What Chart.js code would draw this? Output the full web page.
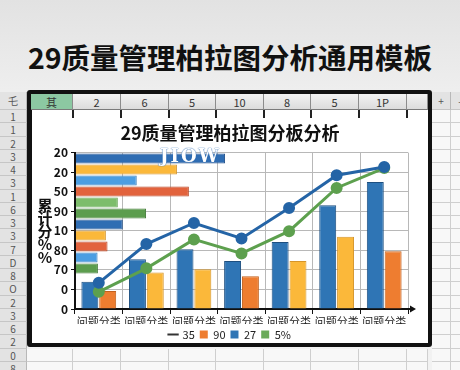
<!DOCTYPE html>
<html>
<head>
<meta charset="utf-8">
<script src="https://cdn.jsdelivr.net/npm/chart.js@4.4.1/dist/chart.umd.min.js"></script>
<style>
  html, body { margin: 0; padding: 0; }
  body {
    width: 460px; height: 370px; overflow: hidden; position: relative;
    background: linear-gradient(#e2e2e2, #eeeeee 90px, #f2f2f2);
    font-family: "Noto Sans CJK SC", "Noto Sans", sans-serif;
  }
  #heading {
    position: absolute; left: 0; top: 37px; width: 460px; margin: 0;
    text-align: center; font-size: 28.5px; line-height: 40px; font-weight: bold; color: #111;
  }
  .cell {
    position: absolute; box-sizing: border-box; text-align: center;
    font-size: 10px; color: #555; overflow: hidden;
  }
  .rowhead { background: #e3e3e3; border-bottom: 1px solid #c6c6c6; border-right: 1px solid #b8b8b8; }
  .sheet { background: #f8f8f8; border-bottom: 1px solid #cfcfcf; border-right: 1px solid #cfcfcf; }
  .colhead {
    background: linear-gradient(#f2f2f2, #dcdcdc); border-right: 1px solid #8c8c8c;
    border-bottom: 1px solid #7a7a7a; font-size: 11px; color: #333; line-height: 15px;
  }
  #frame {
    position: absolute; left: 27px; top: 90px; width: 405px; height: 257px;
    box-sizing: border-box; border: 4px solid #111; border-left-width: 5px;
    border-radius: 3px; background: #fff;
  }
  .stub { position: absolute; width: 2px; height: 8px; top: 110px; background: #222; }
  #ytitle {
    position: absolute; left: 36px; top: 198px; width: 18px; text-align: center;
    font-size: 15px; font-weight: bold; line-height: 13px; color: #111; z-index: 4;
  }
  #mark {
    position: absolute; left: 160px; top: 145px; font-family: "DejaVu Serif", serif;
    font-size: 18px; font-weight: bold; color: #fff; letter-spacing: 2px; z-index: 5;
    text-shadow: 0 0 1px #2f6db3, 0 0 1px #2f6db3;
  }
  #mainChart { position: absolute; left: 32px; top: 118px; z-index: 2; }
  #hbarChart { position: absolute; left: 76px; top: 153px; z-index: 3; }
</style>
</head>
<body>
<h1 id="heading">29质量管理柏拉图分析通用模板</h1>
<div id="sheet"></div>
<div id="frame"></div>
<div id="heads"></div>
<div id="ytitle">累<br>计<br>分<br>%<br>%</div>
<div id="mark">JIOW</div>
<canvas id="mainChart" width="396" height="232"></canvas>
<canvas id="hbarChart" width="332" height="121"></canvas>

<script>
// chart data
const categories = ['问题分类', '问题分类', '问题分类', '问题分类', '问题分类', '问题分类', '问题分类'];
const yTickLabels = ['0', '0', '70', '80', '10', '90', '50', '20', '20'];
const blueBars = [1.39, 2.54, 3.05, 2.45, 3.43, 5.31, 6.5];
const orangeBars = [0.92, 1.87, 2.03, 1.68, 2.45, 3.69, 2.96];
const blueLine = [1.34, 3.32, 4.40, 3.61, 5.17, 6.84, 7.26];
const greenLine = [0.88, 2.08, 3.56, 2.84, 3.98, 6.19, 7.21];
const legendLabels = ['35', '90', '27', '5%'];
const hBarLabels = ['a', 'b', 'c', 'd', 'e', 'f', 'g', 'h', 'i', 'j', 'k'];
const hBarValues = [44.9, 30.4, 18.3, 34.0, 12.6, 21.1, 14.1, 9.0, 9.5, 6.5, 6.6];

// sheet labels
const rowLabels = ['1', '1', '2', '3', '4', '3', '1', '6', '3', '3', '7', 'D', '8', 'O', '2', '3', '6', '2', '0', '8'];
const colLabels = ['其', '2', '6', '5', '10', '8', '5', '1P', ''];

// colours
const orange = '#ee7d30', yellow = '#fbb83a', blue = '#2f75b5';
const orangeBarColors = [orange, yellow, yellow, orange, yellow, yellow, orange];
const orangeBarBorders = orangeBarColors.map(c => c === orange ? '#c2611e' : '#d5952a');
const hBarColors = ['#2f6db3', '#fbb83a', '#4c9ee2', '#e2633d', '#7dbd6b', '#5c9d4e',
                    '#2f6db3', '#fbb83a', '#e2633d', '#4c9ee2', '#5c9d4e'];
const hBarBorders = ['#24528a', '#d5952a', '#3a7fbb', '#b94a2a', '#66a355', '#467d3b',
                     '#24528a', '#d5952a', '#b94a2a', '#3a7fbb', '#467d3b'];

// spreadsheet background
const sheet = document.getElementById('sheet');
const heads = document.getElementById('heads');
function cell(parent, x, y, w, h, text, cls) {
  const d = document.createElement('div');
  d.className = 'cell ' + cls;
  d.style.left = x + 'px'; d.style.top = y + 'px';
  d.style.width = w + 'px'; d.style.height = h + 'px';
  d.style.lineHeight = h + 'px';
  d.textContent = text;
  parent.appendChild(d);
}
const rowH = 13.25;
cell(sheet, 0, 92, 27, 18, '乇', 'rowhead');
for (let i = 0; i < rowLabels.length; i++) {
  cell(sheet, 0, 110 + i * rowH, 27, rowH, rowLabels[i], 'rowhead');
  cell(sheet, 432, 110 + i * rowH, 19, rowH, '', 'sheet');
  cell(sheet, 451, 110 + i * rowH, 19, rowH, '', 'sheet');
}
cell(sheet, 432, 92, 19, 18, '+', 'rowhead');
cell(sheet, 451, 92, 19, 18, '-', 'rowhead');
const colBounds = [31, 73, 121, 169, 216, 264, 311, 359, 407, 428];
for (let r = 0; r < 3; r++) {
  for (let c = 0; c < colBounds.length - 1; c++) {
    const x0 = c === 0 ? 27 : colBounds[c];
    cell(sheet, x0, 110 + (18 + r) * rowH, colBounds[c + 1] - x0, rowH, '', 'sheet');
  }
}
for (let c = 0; c < colBounds.length - 1; c++) {
  cell(heads, colBounds[c], 94, colBounds[c + 1] - colBounds[c], 16, colLabels[c], 'colhead');
  if (c === 0) heads.lastChild.style.background = '#8cc8a2';
  if (c > 0) {
    const s = document.createElement('div');
    s.className = 'stub';
    s.style.left = (colBounds[c] - 1) + 'px';
    heads.appendChild(s);
  }
}
heads.style.position = 'absolute'; heads.style.left = '0'; heads.style.top = '0'; heads.style.zIndex = '1';

Chart.defaults.font.family = '"Noto Sans CJK SC", "Noto Sans", sans-serif';
Chart.defaults.animation = false;

const axisArrow = {
  id: 'axisArrow',
  afterDraw(chart) {
    const { ctx, chartArea } = chart;
    const x = chartArea.right, y = chartArea.bottom;
    ctx.save();
    ctx.fillStyle = '#111';
    ctx.strokeStyle = '#111';
    ctx.lineWidth = 2;
    ctx.beginPath(); ctx.moveTo(x - 1, y); ctx.lineTo(x + 3, y); ctx.stroke();
    ctx.beginPath(); ctx.moveTo(x + 8, y); ctx.lineTo(x + 2, y - 3.5); ctx.lineTo(x + 2, y + 3.5);
    ctx.closePath(); ctx.fill();
    ctx.restore();
  }
};

const legendColors = ['#333333', orange, blue, '#6aaa5a'];
const legendStyles = ['line', 'rect', 'rect', 'rect'];

new Chart(document.getElementById('mainChart'), {
  type: 'bar',
  data: {
    labels: categories,
    datasets: [
      { type: 'line', label: legendLabels[0], data: blueLine, borderColor: '#2464a6', backgroundColor: '#2464a6',
        borderWidth: 3, pointRadius: 4.5, pointBackgroundColor: '#2464a6', clip: false, order: 0 },
      { type: 'line', label: legendLabels[3], data: greenLine, borderColor: '#5da04e', backgroundColor: '#5da04e',
        borderWidth: 3, pointRadius: 4.5, pointBackgroundColor: '#5da04e', clip: false, order: 0 },
      { label: legendLabels[2], data: blueBars, backgroundColor: blue, borderColor: '#1d4f80', borderWidth: 1,
        categoryPercentage: 0.75, barPercentage: 0.95, order: 1 },
      { label: legendLabels[1], data: orangeBars, backgroundColor: orangeBarColors, borderColor: orangeBarBorders,
        borderWidth: 1, categoryPercentage: 0.75, barPercentage: 0.95, order: 1 }
    ]
  },
  options: {
    responsive: false,
    layout: { padding: { left: 20, right: 20 } },
    scales: {
      x: {
        afterFit: (scale) => { scale.height = 15; },
        grid: { color: '#b8b8b8', tickColor: '#111', tickLength: 5 },
        border: { color: '#111', width: 2 },
        ticks: { color: '#222', font: { size: 11 }, padding: 1, maxRotation: 0, autoSkip: false }
      },
      y: {
        min: 0, max: 8,
        afterFit: (scale) => { scale.width = 23; },
        grid: { color: '#b8b8b8', tickColor: '#111', tickLength: 4 },
        border: { color: '#111', width: 2 },
        ticks: { stepSize: 1, color: '#111', padding: 3, font: { size: 12, weight: 'bold' },
                 callback: (v) => yTickLabels[v] }
      }
    },
    plugins: {
      title: {
        display: true, text: '29质量管理柏拉图分板分析', color: '#111',
        font: { size: 18, weight: 'bold' }, padding: { top: 4, bottom: 9 }
      },
      legend: {
        position: 'bottom',
        labels: {
          usePointStyle: true, boxWidth: 8, boxHeight: 8, padding: 5, color: '#222', font: { size: 11 },
          generateLabels: () => legendLabels.map((t, i) => ({
            text: t, fillStyle: legendColors[i], strokeStyle: legendColors[i],
            lineWidth: i === 0 ? 2 : 0, pointStyle: legendStyles[i], hidden: false,
            datasetIndex: i, fontColor: '#222'
          }))
        }
      },
      tooltip: { enabled: false }
    }
  },
  plugins: [axisArrow]
});

// horizontal bars laid over the top-left of the plot
new Chart(document.getElementById('hbarChart'), {
  type: 'bar',
  data: {
    labels: hBarLabels,
    datasets: [{
      data: hBarValues, backgroundColor: hBarColors, borderColor: hBarBorders, borderWidth: 1,
      barPercentage: 0.92, categoryPercentage: 1
    }]
  },
  options: {
    indexAxis: 'y',
    responsive: false,
    scales: {
      x: { display: false, min: 0, max: 100 },
      y: { display: false }
    },
    plugins: { legend: { display: false }, tooltip: { enabled: false } }
  }
});
</script>
</body>
</html>
